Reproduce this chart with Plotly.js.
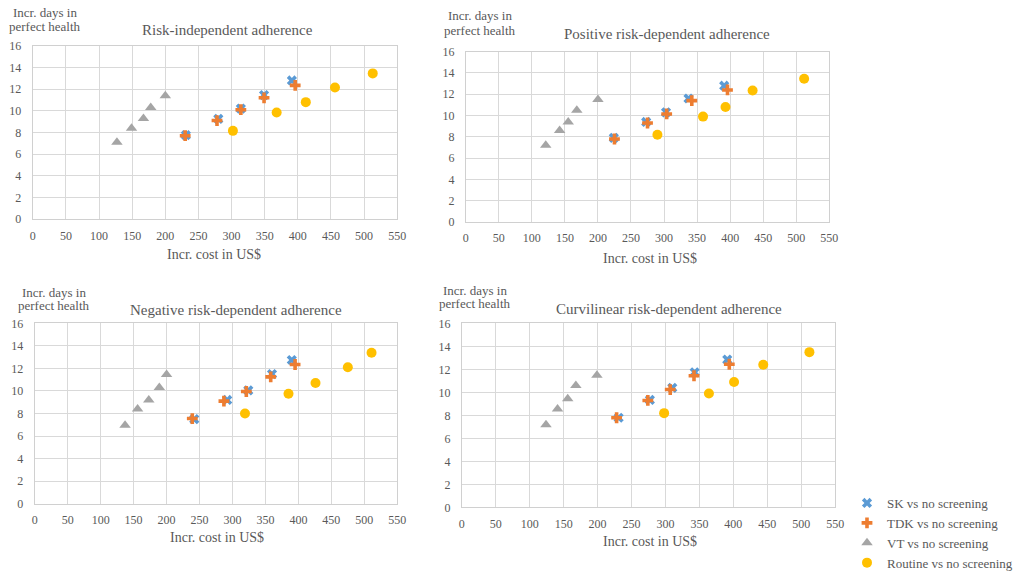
<!DOCTYPE html>
<html>
<head>
<meta charset="utf-8">
<script src="https://cdn.plot.ly/plotly-3.0.1.min.js"></script>
<style>html,body{margin:0;padding:0;background:#fff;}#chart{width:1018px;height:578px;}</style>
</head>
<body>
<div id="chart"></div>
<script>
// ---- Data ----
const panelTitles = ["Risk-independent adherence", "Positive risk-dependent adherence",
                     "Negative risk-dependent adherence", "Curvilinear risk-dependent adherence"];
const seriesNames = ["SK vs no screening", "TDK vs no screening", "VT vs no screening", "Routine vs no screening"];

// Panel 1: risk-independent
const p1_sk_x = [231, 280, 314, 349, 391];  const p1_sk_y = [7.75, 9.25, 10.2, 11.45, 12.8];
const p1_tdk_x = [230, 278, 314, 349, 396]; const p1_tdk_y = [7.7, 9.1, 10.1, 11.2, 12.35];
const p1_vt_x = [127, 149, 167, 178, 200];  const p1_vt_y = [7.1, 8.4, 9.3, 10.3, 11.4];
const p1_rt_x = [302, 368, 412, 456, 513];  const p1_rt_y = [8.15, 9.85, 10.8, 12.15, 13.45];

// Panel 2: positive risk-dependent
const p2_sk_x = [224, 273, 303, 337, 391];  const p2_sk_y = [7.9, 9.4, 10.3, 11.6, 12.8];
const p2_tdk_x = [225, 275, 304, 342, 396]; const p2_tdk_y = [7.8, 9.3, 10.15, 11.4, 12.4];
const p2_vt_x = [121, 142, 155, 168, 200];  const p2_vt_y = [7.2, 8.6, 9.4, 10.5, 11.5];
const p2_rt_x = [290, 359, 393, 434, 512];  const p2_rt_y = [8.2, 9.9, 10.8, 12.35, 13.45];

// Panel 3: negative risk-dependent
const p3_sk_x = [242, 292, 324, 360, 390];  const p3_sk_y = [7.5, 9.2, 10.05, 11.5, 12.75];
const p3_tdk_x = [239, 287, 321, 358, 395]; const p3_tdk_y = [7.55, 9.1, 9.95, 11.25, 12.35];
const p3_vt_x = [137, 156, 173, 189, 200];  const p3_vt_y = [6.95, 8.4, 9.2, 10.3, 11.45];
const p3_rt_x = [319, 385, 426, 475, 511];  const p3_rt_y = [8.0, 9.75, 10.7, 12.1, 13.4];

// Panel 4: curvilinear risk-dependent
const p4_sk_x = [231, 277, 310, 343, 391];  const p4_sk_y = [7.8, 9.35, 10.4, 11.75, 12.85];
const p4_tdk_x = [228, 274, 307, 342, 394]; const p4_tdk_y = [7.8, 9.3, 10.25, 11.45, 12.45];
const p4_vt_x = [124, 141, 156, 168, 199];  const p4_vt_y = [7.2, 8.55, 9.45, 10.6, 11.5];
const p4_rt_x = [298, 364, 401, 444, 512];  const p4_rt_y = [8.2, 9.9, 10.9, 12.4, 13.5];

const panels = [
  [[p1_sk_x, p1_sk_y], [p1_tdk_x, p1_tdk_y], [p1_vt_x, p1_vt_y], [p1_rt_x, p1_rt_y]],
  [[p2_sk_x, p2_sk_y], [p2_tdk_x, p2_tdk_y], [p2_vt_x, p2_vt_y], [p2_rt_x, p2_rt_y]],
  [[p3_sk_x, p3_sk_y], [p3_tdk_x, p3_tdk_y], [p3_vt_x, p3_vt_y], [p3_rt_x, p3_rt_y]],
  [[p4_sk_x, p4_sk_y], [p4_tdk_x, p4_tdk_y], [p4_vt_x, p4_vt_y], [p4_rt_x, p4_rt_y]]
];

// ---- Styling ----
const W = 1018, H = 578;
const FONT = "Liberation Serif, Times New Roman, serif";
const TXT = "#595959";
const markerStyles = [
  {symbol: "x", color: "#5b9bd5", size: 9},
  {symbol: "cross", color: "#ed7d31", size: 9},
  {symbol: "triangle-up", color: "#a5a5a5", size: 10},
  {symbol: "circle", color: "#ffc000", size: 10}
];
// plot-area boxes in pixels: [left, right, top, bottom]
const boxes = [[33, 400, 47, 225], [469, 835, 53, 228], [35, 400, 332, 517], [465, 841, 332, 521]];
const titlePos = [[229, 31], [672, 35], [238, 318], [674, 317]];
const yTitlePos = [[45, 13, 27], [483, 16, 31], [54, 300, 314], [478, 298, 312]];
const xTitlePos = [[215, 261], [654, 265], [219, 552], [654, 556]];

const px = v => v / W, py = v => 1 - v / H;

const traces = [];
panels.forEach((series, pi) => {
  const sfx = pi === 0 ? "" : String(pi + 1);
  series.forEach((s, si) => {
    const m = markerStyles[si];
    traces.push({
      type: "scatter", mode: "markers",
      x: s[0], y: s[1],
      xaxis: "x" + sfx, yaxis: "y" + sfx,
      name: seriesNames[si], legendgroup: seriesNames[si],
      showlegend: pi === 0,
      marker: {symbol: m.symbol, color: m.color, size: m.size, line: {width: 0}},
      hoverinfo: "x+y"
    });
  });
});

const layout = {
  width: W, height: H,
  margin: {l: 0, r: 0, t: 0, b: 0},
  paper_bgcolor: "#fff", plot_bgcolor: "#fff",
  font: {family: FONT, color: TXT, size: 12},
  showlegend: true,
  legend: {x: px(853), y: py(501), xanchor: "left", yanchor: "top",
           font: {family: FONT, size: 13, color: TXT}, itemwidth: 30, tracegroupgap: 0,
           bgcolor: "rgba(0,0,0,0)"},
  annotations: []
};

boxes.forEach((b, i) => {
  const sfx = i === 0 ? "" : String(i + 1);
  layout["xaxis" + sfx] = {
    domain: [px(b[0]), px(b[1])], anchor: "y" + sfx,
    range: [0, 550], dtick: 50, tick0: 0,
    showgrid: true, gridcolor: "#d9d9d9", gridwidth: 1,
    showline: true, mirror: true, linecolor: "#d0d0d0", linewidth: 1,
    zeroline: false, ticks: "", ticklabelstandoff: 5,
    tickfont: {family: FONT, size: 12, color: TXT}, fixedrange: true
  };
  layout["yaxis" + sfx] = {
    domain: [py(b[3]), py(b[2])], anchor: "x" + sfx,
    range: [0, 16], dtick: 2, tick0: 0,
    showgrid: true, gridcolor: "#d9d9d9", gridwidth: 1,
    showline: true, mirror: true, linecolor: "#d0d0d0", linewidth: 1,
    zeroline: false, ticks: "", ticklabelstandoff: 8,
    tickfont: {family: FONT, size: 12, color: TXT}, fixedrange: true
  };
  const base = {xref: "paper", yref: "paper", showarrow: false, xanchor: "center", yanchor: "middle"};
  layout.annotations.push(Object.assign({}, base, {
    x: px(titlePos[i][0]), y: py(titlePos[i][1]), text: panelTitles[i],
    font: {family: FONT, size: 15, color: TXT}}));
  layout.annotations.push(Object.assign({}, base, {
    x: px(yTitlePos[i][0]), y: py(yTitlePos[i][1]), text: "Incr. days in",
    font: {family: FONT, size: 13, color: TXT}}));
  layout.annotations.push(Object.assign({}, base, {
    x: px(yTitlePos[i][0]), y: py(yTitlePos[i][2]), text: "perfect health",
    font: {family: FONT, size: 13, color: TXT}}));
  layout.annotations.push(Object.assign({}, base, {
    x: px(xTitlePos[i][0]), y: py(xTitlePos[i][1]), text: "Incr. cost in US$",
    font: {family: FONT, size: 14, color: TXT}}));
});

Plotly.newPlot("chart", traces, layout, {displayModeBar: false, staticPlot: true});
</script>
</body>
</html>
